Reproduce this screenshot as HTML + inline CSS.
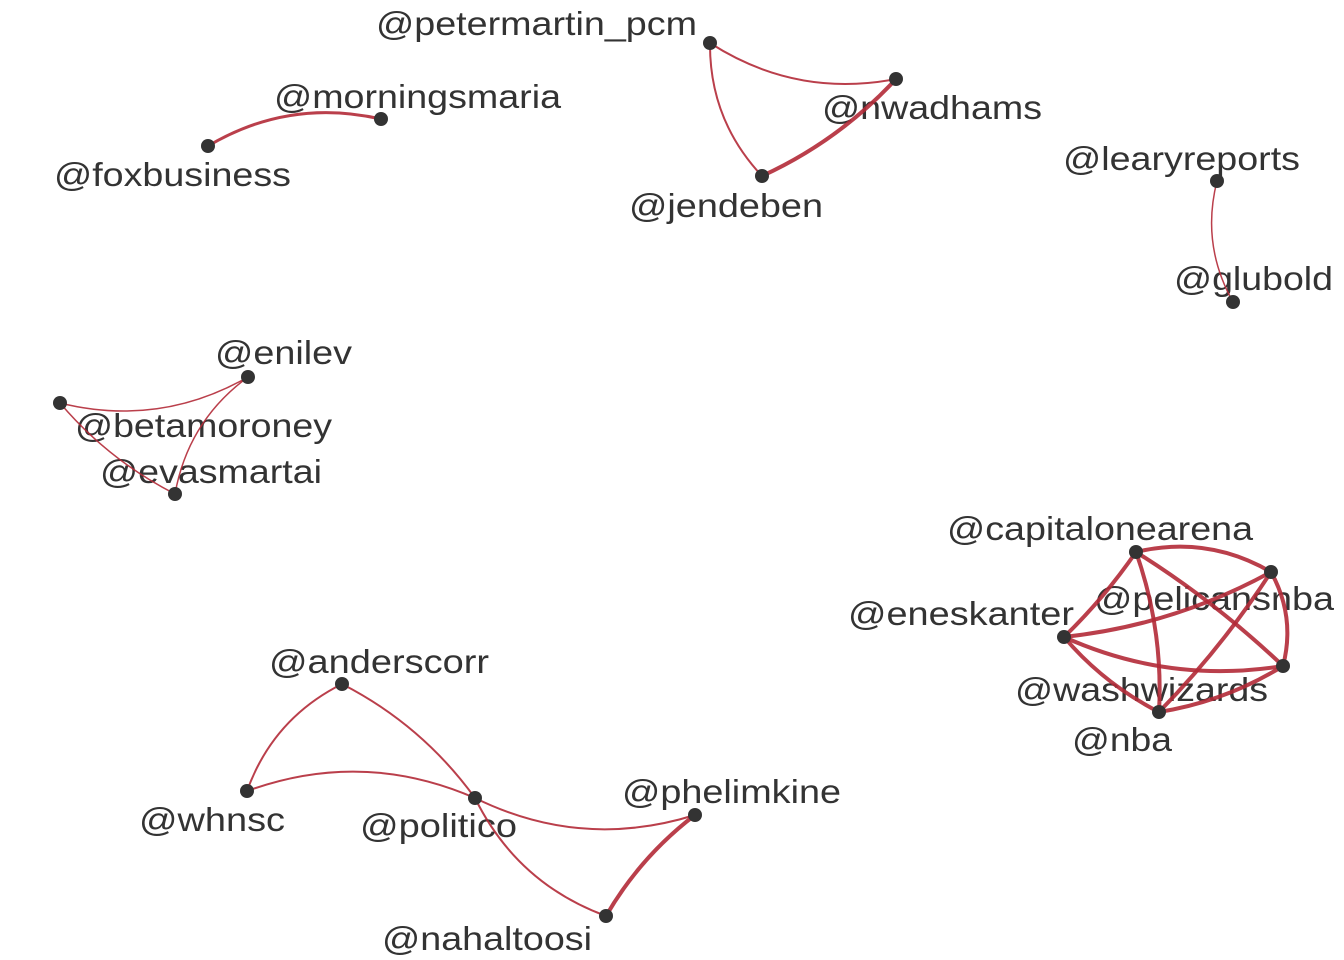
<!DOCTYPE html>
<html><head><meta charset="utf-8"><style>
html,body{margin:0;padding:0;background:#fff;}
svg{display:block;}
text{font-family:"Liberation Sans",Arial,sans-serif;font-size:33px;fill:#333;}
</style></head><body>
<svg id="chart" width="1344" height="960" viewBox="0 0 1344 960">
<g id="labels"></g><g id="edges"></g><g id="nodes"></g>
</svg>
<script>
const nodeNames = ["petermartin_pcm","morningsmaria","foxbusiness","nwadhams","jendeben","learyreports","glubold","enilev","betamoroney","evasmartai","capitalonearena","pelicansnba","eneskanter","washwizards","nba","anderscorr","whnsc","politico","phelimkine","nahaltoosi"];
const nodeX = [710,381,208,896,762,1217,1233,248,60,175,1136,1271,1064,1283,1159,342,247,475,695,606];
const nodeY = [43,119,146,79,176,181,302,377,403,494,552,572,637,666,712,684,791,798,815,916];
const labelX = [376,274,54,822,629,1063,1174,215,75,100,947,1094,848,1015,1072,269,139,360,622,382];
const labelY = [35,108,186,119,217,170,290,364,437,483,540,610,625,701,751,673,831,837,803,950];
const labelW = [321,287,237,220,194,237,159,137,257,222,306,240,226,253,100,220,146,157,219,210];
const edgeFrom = ["foxbusiness","petermartin_pcm","petermartin_pcm","jendeben","learyreports","betamoroney","betamoroney","evasmartai","anderscorr","anderscorr","whnsc","politico","politico","nahaltoosi","capitalonearena","capitalonearena","capitalonearena","capitalonearena","pelicansnba","pelicansnba","pelicansnba","eneskanter","eneskanter","washwizards"];
const edgeTo = ["morningsmaria","nwadhams","jendeben","nwadhams","glubold","enilev","evasmartai","enilev","whnsc","politico","politico","phelimkine","nahaltoosi","phelimkine","pelicansnba","eneskanter","washwizards","nba","eneskanter","washwizards","nba","washwizards","nba","nba"];
const edgeWeight = [3,2,2,4,1.5,1.5,1.5,1.5,2,2,2,2,2,4,4,4,4,4,4,4,4,4,4,4];
const edgeBend = [0.2,-0.2,-0.2,-0.1,-0.2,-0.2,-0.1,0.2,-0.2,0.12,0.2,-0.2,-0.2,0.1,0.2,0.05,0.05,0.1,0.1,0.2,0.05,-0.15,-0.1,0.1];
const NS="http://www.w3.org/2000/svg";
const gL=document.getElementById('labels'),gE=document.getElementById('edges'),gN=document.getElementById('nodes');
nodeNames.forEach((n,i)=>{
  const t=document.createElementNS(NS,'text');
  t.setAttribute('x',labelX[i]);t.setAttribute('y',labelY[i]);
  t.setAttribute('textLength',labelW[i]);t.setAttribute('lengthAdjust','spacingAndGlyphs');
  t.textContent='@'+n;
  
  
  gL.appendChild(t);
});
edgeFrom.forEach((f,i)=>{
  const a=nodeNames.indexOf(f),b=nodeNames.indexOf(edgeTo[i]);
  const x1=nodeX[a],y1=nodeY[a],x2=nodeX[b],y2=nodeY[b];
  const dx=x2-x1,dy=y2-y1,k=edgeBend[i];
  const cx=(x1+x2)/2+k*dy,cy=(y1+y2)/2-k*dx;
  const p=document.createElementNS(NS,'path');
  p.setAttribute('d',`M${x1},${y1} Q${cx},${cy} ${x2},${y2}`);
  p.setAttribute('fill','none');p.setAttribute('stroke','#b22a37');
  p.setAttribute('stroke-opacity','0.9');p.setAttribute('stroke-width',edgeWeight[i]);
  
  
  gE.appendChild(p);
});
nodeNames.forEach((n,i)=>{
  const c=document.createElementNS(NS,'circle');
  c.setAttribute('cx',nodeX[i]);c.setAttribute('cy',nodeY[i]);c.setAttribute('r',7);
  c.setAttribute('fill','#333');
  
  
  gN.appendChild(c);
});
</script>
</body></html>
